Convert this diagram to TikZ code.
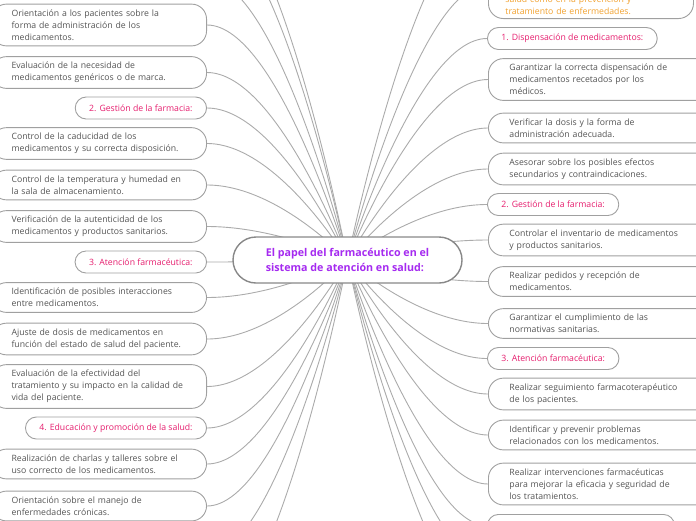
\documentclass[tikz,border=0pt]{standalone}
\usepackage{fontspec}
\setmainfont{Open Sans}
\usetikzlibrary{calc,backgrounds}
\definecolor{txt}{HTML}{555555}
\definecolor{hd}{HTML}{E61E6E}
\definecolor{org}{HTML}{F2A230}
\definecolor{pur}{HTML}{A52AF0}
\definecolor{bord}{HTML}{A0A0A0}
\definecolor{cbord}{HTML}{888888}
\definecolor{lnk}{HTML}{ABABAB}
\newcommand\conn[1]{%
  \path ($(#1)!0.5!(C)$) coordinate (cm);
  \draw[link] (C) .. controls (C) and (cm |- #1) .. (#1);}
\begin{document}
\begin{tikzpicture}[x=1pt,y=-1pt,
  every node/.style={font=\fontsize{8.7}{12}\selectfont},
  link/.style={draw=lnk, line width=0.9pt},
  lbox/.style={draw=bord, line width=0.9pt, fill=white, rounded corners=15pt, text=txt,
    align=left, text width=175pt, inner xsep=20pt, inner ysep=5.5pt, anchor=east},
  rbox/.style={lbox, text width=190pt, inner xsep=21pt, anchor=west},
  lhead/.style={draw=bord, line width=0.9pt, fill=white, rounded corners=11pt, text=hd,
    minimum height=22pt, inner xsep=14pt, inner ysep=0pt, anchor=east},
  rhead/.style={lhead, anchor=west},
  ctrbox/.style={draw=cbord, line width=1.4pt, fill=white, rounded corners=23pt,
    minimum width=229pt, minimum height=46pt, align=left, text=pur,
    font=\fontsize{10.7}{15}\selectfont\bfseries}]
\useasboundingbox (0,0) rectangle (696,520);

\node[ctrbox] (ctr) at (347.5,260) {El papel del farmacéutico en el\\sistema de atención en salud:};
\coordinate (C) at (ctr.center);

% left column
\node[lbox] (L1) at (207,25) {Orientación a los pacientes sobre la\\forma de administración de los\\medicamentos.};
\node[lbox] (L2) at (207,72.5) {Evaluación de la necesidad de\\medicamentos genéricos o de marca.};
\node[lhead] (L3) at (207,108) {2. Gestión de la farmacia:};
\node[lbox] (L4) at (207,143.5) {Control de la caducidad de los\\medicamentos y su correcta disposición.};
\node[lbox] (L5) at (207,185) {Control de la temperatura y humedad en\\la sala de almacenamiento.};
\node[lbox] (L6) at (207,226.5) {Verificación de la autenticidad de los\\medicamentos y productos sanitarios.};
\node[lhead] (L7) at (207,262) {3. Atención farmacéutica:};
\node[lbox] (L8) at (207,297.5) {Identificación de posibles interacciones\\entre medicamentos.};
\node[lbox] (L9) at (207,339) {Ajuste de dosis de medicamentos en\\función del estado de salud del paciente.};
\node[lbox] (L10) at (207,386.5) {Evaluación de la efectividad del\\tratamiento y su impacto en la calidad de\\vida del paciente.};
\node[lhead] (L11) at (207,428) {4. Educación y promoción de la salud:};
\node[lbox] (L12) at (207,464) {Realización de charlas y talleres sobre el\\uso correcto de los medicamentos.};
\node[lbox] (L13) at (207,506) {Orientación sobre el manejo de\\enfermedades crónicas.};

% right column
\node[rbox, text=org, text width=171pt, inner xsep=17pt, inner ysep=4pt, anchor=south west] (R0) at (488,19)
  {\mbox{}\\\mbox{}\\\mbox{}\\\mbox{}\\salud como en la prevención y\\tratamiento de enfermedades.};
\node[rhead] (R1) at (487,38.5) {1. Dispensación de medicamentos:};
\node[rbox] (R2) at (488,79.5) {Garantizar la correcta dispensación de\\medicamentos recetados por los\\médicos.};
\node[rbox] (R3) at (488,128) {Verificar la dosis y la forma de\\administración adecuada.};
\node[rbox] (R4) at (488,169) {Asesorar sobre los posibles efectos\\secundarios y contraindicaciones.};
\node[rhead] (R5) at (487,204.5) {2. Gestión de la farmacia:};
\node[rbox] (R6) at (488,240) {Controlar el inventario de medicamentos\\y productos sanitarios.};
\node[rbox] (R7) at (488,281.5) {Realizar pedidos y recepción de\\medicamentos.};
\node[rbox] (R8) at (488,323.5) {Garantizar el cumplimiento de las\\normativas sanitarias.};
\node[rhead] (R9) at (487,358.5) {3. Atención farmacéutica:};
\node[rbox] (R10) at (488,394) {Realizar seguimiento farmacoterapéutico\\de los pacientes.};
\node[rbox] (R11) at (488,435) {Identificar y prevenir problemas\\relacionados con los medicamentos.};
\node[rbox] (R12) at (488,484) {Realizar intervenciones farmacéuticas\\para mejorar la eficacia y seguridad de\\los tratamientos.};
\node[rhead, minimum width=187pt, anchor=north west] (R13) at (487,514) {};

% free ends of connectors leaving the picture
\coordinate (lt1) at (207,-21);
\coordinate (lt2) at (207,-75);
\coordinate (lt3) at (207,-100);
\coordinate (rt1) at (488,-80);
\coordinate (lb1) at (207,555);
\coordinate (lb2) at (207,620);
\coordinate (rb1) at (488,562);
\coordinate (rb2) at (488,605);

\begin{pgfonlayer}{background}
\foreach \n in {L1.east,L2.east,L3.east,L4.east,L5.east,L6.east,L7.east,L8.east,L9.east,L10.east,L11.east,L12.east,L13.east,lt1,lt2,lt3,lb1,lb2}
  {\conn{\n}}
\foreach \n in {R0.west,R1.west,R2.west,R3.west,R4.west,R5.west,R6.west,R7.west,R8.west,R9.west,R10.west,R11.west,R12.west,R13.west,rt1,rb1,rb2}
  {\conn{\n}}
\end{pgfonlayer}
\end{tikzpicture}
\end{document}
